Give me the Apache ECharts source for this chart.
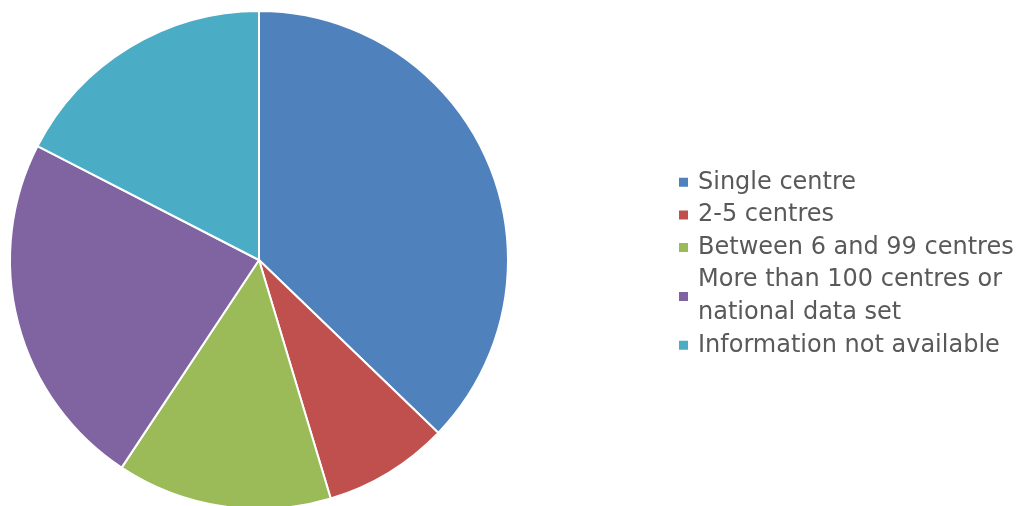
<html>
<head>
	<meta charset="UTF-8">
	<script src="https://cdn.jsdelivr.net/npm/echarts@6/dist/echarts.min.js"></script>
</head>
<body style="margin:0;">
<div id="piechart" style="width: 1028px;height:506px;"></div>
<script type="text/javascript">

        // categories and counts
        var categories = ['Single centre', '2-5 centres', 'Between 6 and 99 centres',
                          'More than 100 centres or\nnational data set', 'Information not available']
        var counts = [32, 7, 12, 20, 15]
        var colors = ['#4F81BD', '#C0504D', '#9BBB59', '#8064A2', '#4BACC6']

        var pie_chart = echarts.init(document.getElementById('piechart'));

        var pie_data = []
        for (var i = 0; i < categories.length; i++) {
            pie_data.push({name: categories[i], value: counts[i]})
        }

        option = {
            color: colors,
            legend: {
                orient: 'vertical',
                left: 677,
                top: 166,
                padding: 0,
                itemWidth: 11,
                itemHeight: 11,
                itemGap: 0,
                icon: 'rect',
                data: categories,
                textStyle: {
                    fontFamily: 'DejaVu Sans',
                    fontSize: 24,
                    lineHeight: 32.6,
                    color: '#595959',
                    padding: [0, 0, 0, 4]
                }
            },
            series: [
                {
                    type: 'pie',
                    center: [259, 260],
                    radius: 249,
                    startAngle: 90,
                    clockwise: true,
                    animation: false,
                    label: {show: false},
                    labelLine: {show: false},
                    itemStyle: {borderColor: '#fff', borderWidth: 2},
                    emphasis: {disabled: true},
                    data: pie_data
                }
            ]
        };

        pie_chart.setOption(option);
</script>
</body>
</html>
